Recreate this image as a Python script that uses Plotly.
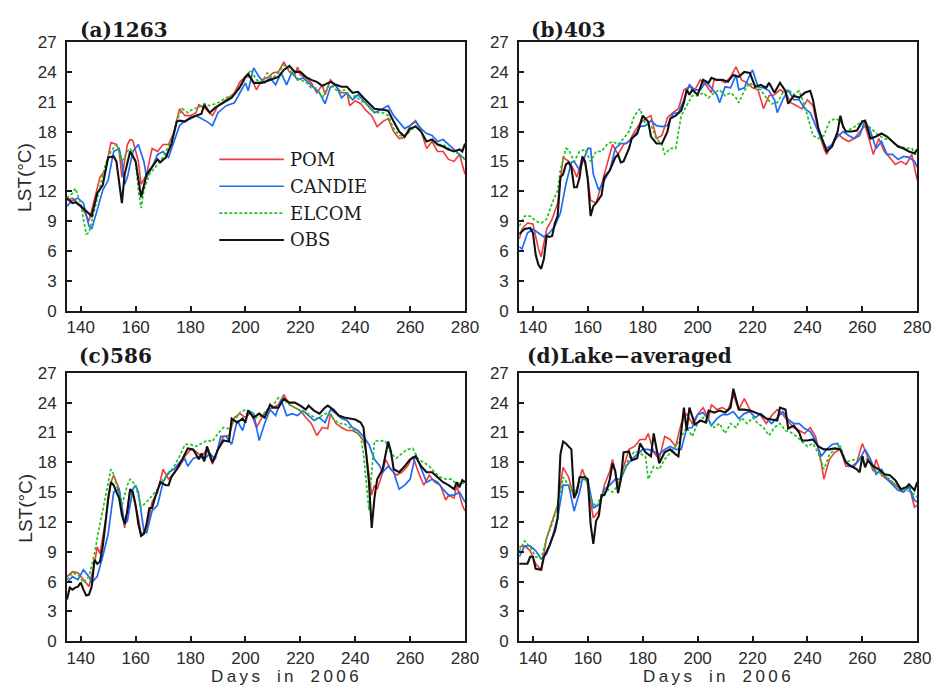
import plotly.graph_objects as go

# ---------------------------------------------------------------------------
# Lake surface temperature (LST, °C) vs day of year 2006
# Each series: list of (day, LST) pairs
# ---------------------------------------------------------------------------
X_RANGE = [135, 280]
Y_RANGE = [0, 27]
X_TICKS = [140, 160, 180, 200, 220, 240, 260, 280]
Y_TICKS = [0, 3, 6, 9, 12, 15, 18, 21, 24, 27]
SERIES_NAMES = ["POM", "CANDIE", "ELCOM", "OBS"]
PANEL_TITLES = ["(a)1263", "(b)403", "(c)586", "(d)Lake\u2212averaged"]

# ---- (a) station 1263 ----
A_POM = [(135, 11.1), (137, 11.3), (139, 10.8), (141, 10.1), (143, 9.0), (145, 11.1), (147, 13.4), (149, 14.1),
         (151, 16.9), (153, 16.7), (154, 16.0), (155, 13.4), (157, 16.7), (158, 17.2), (159, 17.1), (161, 15.0),
         (162, 12.7), (164, 13.7), (166, 16.3), (168, 16.0), (170, 16.7), (172, 16.7), (174, 18.0), (176, 20.3),
         (178, 19.6), (180, 19.6), (182, 19.9), (183, 20.7), (185, 20.4), (188, 19.6), (190, 20.6), (193, 21.2),
         (196, 21.9), (198, 23.0), (200, 23.5), (202, 23.5), (204, 22.2), (206, 23.2), (208, 23.4), (210, 23.9),
         (212, 24.0), (214, 25.0), (216, 24.0), (218, 23.7), (219, 24.5), (220, 23.7), (222, 23.4), (224, 22.9),
         (226, 21.9), (228, 22.7), (229, 21.7), (231, 23.2), (233, 22.5), (235, 21.9), (237, 21.9), (238, 20.6),
         (240, 21.1), (242, 20.8), (244, 20.1), (246, 19.6), (248, 18.5), (250, 19.0), (252, 19.3), (254, 18.0),
         (256, 17.3), (258, 17.4), (260, 18.6), (262, 19.1), (264, 18.0), (266, 16.3), (268, 17.0), (270, 16.0),
         (272, 16.0), (274, 15.2), (276, 15.0), (278, 15.7), (280, 13.7)]
A_CANDIE = [(135, 10.5), (137, 11.1), (139, 11.3), (141, 10.8), (143, 8.5), (144, 8.2), (146, 10.1), (148, 12.1),
            (150, 13.1), (152, 16.0), (154, 16.3), (155, 15.0), (156, 12.7), (157, 13.4), (159, 16.0), (161, 16.7),
            (163, 15.0), (164, 13.4), (166, 14.4), (168, 15.7), (170, 16.0), (172, 15.4), (174, 17.0), (176, 18.6),
            (178, 19.1), (180, 19.3), (182, 19.6), (184, 19.3), (186, 19.0), (188, 18.6), (190, 19.9), (193, 20.6),
            (196, 20.9), (198, 21.9), (200, 22.9), (201, 22.1), (203, 24.4), (205, 23.5), (207, 22.9), (209, 23.4),
            (211, 22.7), (213, 23.9), (215, 22.7), (217, 24.0), (219, 23.2), (221, 23.4), (223, 22.9), (225, 22.5),
            (227, 21.9), (229, 20.8), (231, 22.5), (233, 22.7), (235, 21.4), (237, 21.9), (239, 21.2), (241, 21.7),
            (243, 21.1), (245, 20.6), (247, 19.9), (250, 20.3), (252, 20.6), (254, 19.6), (256, 19.0), (258, 18.3),
            (260, 18.6), (262, 19.0), (264, 18.3), (266, 17.8), (268, 17.6), (270, 17.0), (272, 17.2), (274, 16.7),
            (276, 16.2), (278, 15.8), (280, 15.2)]
A_ELCOM = [(135, 11.3), (137, 11.8), (138, 12.3), (140, 10.8), (141, 9.2), (142, 7.7), (143, 7.8), (145, 10.1),
           (147, 12.7), (149, 14.7), (151, 16.0), (153, 16.7), (154, 16.0), (155, 15.0), (157, 16.0), (158, 16.3),
           (160, 15.0), (161, 12.1), (162, 10.3), (163, 12.1), (165, 13.7), (167, 14.4), (169, 15.0), (171, 16.0),
           (173, 17.0), (175, 19.1), (177, 20.3), (179, 19.9), (181, 20.3), (183, 20.4), (185, 20.8), (187, 20.6),
           (190, 20.9), (193, 21.4), (196, 21.7), (198, 22.4), (200, 23.4), (202, 24.2), (204, 23.2), (206, 23.0),
           (208, 23.9), (210, 23.4), (212, 23.9), (214, 24.7), (216, 24.2), (218, 23.5), (220, 23.2), (222, 23.0),
           (224, 22.4), (226, 22.4), (228, 21.4), (230, 22.5), (232, 22.5), (234, 21.9), (236, 22.2), (238, 21.4),
           (240, 21.6), (242, 21.1), (244, 20.8), (246, 20.1), (248, 19.9), (250, 19.9), (252, 19.6), (254, 18.3),
           (256, 17.6), (258, 17.5), (260, 18.1), (262, 18.6), (264, 18.0), (266, 17.0), (268, 17.2), (270, 16.7),
           (272, 16.7), (274, 16.3), (276, 16.0), (278, 15.7), (280, 15.2)]
A_OBS = [(135, 11.3), (137, 10.8), (138, 10.9), (140, 10.5), (142, 10.0), (144, 9.5), (146, 11.8), (148, 12.6),
         (150, 15.4), (152, 15.5), (153, 15.0), (155, 10.8), (156, 13.7), (158, 16.0), (160, 15.0), (162, 11.4),
         (164, 13.7), (166, 14.4), (168, 15.2), (169, 14.9), (171, 15.4), (173, 16.7), (175, 19.0), (176, 19.1),
         (178, 19.0), (180, 19.4), (182, 19.6), (184, 19.8), (185, 20.7), (187, 19.9), (189, 20.4), (192, 20.9),
         (195, 21.4), (198, 22.5), (200, 23.5), (201, 23.8), (203, 22.9), (206, 22.9), (209, 23.2), (212, 23.5),
         (214, 24.2), (216, 24.6), (218, 24.0), (220, 24.0), (222, 23.5), (224, 23.2), (226, 23.0), (228, 22.6),
         (231, 23.0), (233, 22.7), (235, 22.5), (237, 22.5), (239, 21.9), (241, 22.0), (243, 21.4), (245, 20.9),
         (247, 20.3), (250, 20.2), (252, 20.1), (254, 19.0), (256, 18.0), (258, 17.5), (260, 18.3), (262, 18.5),
         (264, 18.0), (266, 17.0), (268, 17.2), (270, 16.7), (272, 16.5), (274, 16.2), (276, 16.0), (278, 16.2),
         (279, 16.0), (280, 16.8)]

# ---- (b) station 403 ----
B_POM = [(135, 7.2), (136, 8.2), (138, 8.8), (140, 8.7), (142, 6.2), (143, 5.4), (145, 8.2), (147, 9.2), (149, 10.8),
         (151, 15.4), (153, 15.0), (155, 14.1), (156, 13.4), (158, 15.4), (159, 14.9), (160, 13.4), (161, 11.1),
         (163, 10.8), (165, 12.7), (167, 14.7), (169, 16.7), (171, 15.7), (173, 16.7), (175, 17.0), (177, 18.0),
         (179, 18.8), (181, 19.3), (183, 19.6), (185, 17.3), (187, 17.6), (189, 19.4), (191, 19.9), (193, 20.3),
         (195, 22.2), (197, 22.5), (199, 22.2), (201, 23.2), (203, 22.7), (205, 21.9), (206, 23.2), (208, 23.2),
         (210, 22.9), (212, 23.5), (214, 24.5), (216, 23.2), (218, 22.9), (220, 22.4), (222, 22.2), (224, 20.3),
         (226, 21.6), (228, 21.7), (230, 22.2), (232, 21.9), (234, 20.9), (236, 20.6), (238, 20.3), (240, 21.2),
         (242, 20.6), (244, 18.0), (246, 16.3), (247, 15.7), (249, 16.7), (251, 17.8), (253, 17.3), (255, 17.0),
         (257, 17.3), (259, 18.0), (261, 18.6), (263, 16.7), (264, 15.7), (266, 17.3), (268, 16.0), (270, 15.4),
         (272, 14.7), (274, 15.0), (276, 14.7), (278, 15.7), (280, 13.1)]
B_CANDIE = [(135, 6.4), (136, 6.2), (138, 7.8), (140, 8.2), (142, 7.8), (144, 7.4), (146, 7.8), (148, 8.5),
            (150, 9.8), (152, 12.7), (154, 14.9), (155, 15.0), (157, 14.1), (159, 15.7), (160, 16.3), (161, 16.3),
            (162, 13.7), (164, 12.1), (166, 13.1), (168, 14.1), (170, 16.3), (172, 16.8), (174, 16.8), (176, 17.3),
            (178, 18.0), (179, 18.5), (181, 18.6), (183, 19.1), (185, 18.6), (187, 18.5), (189, 18.6), (191, 19.8),
            (193, 19.9), (195, 21.2), (197, 22.7), (199, 22.2), (201, 22.2), (203, 23.0), (205, 22.4), (207, 21.7),
            (208, 20.9), (210, 22.5), (212, 22.4), (214, 23.7), (215, 22.2), (217, 22.4), (219, 23.7), (220, 24.2),
            (222, 22.5), (224, 22.4), (226, 22.1), (228, 21.2), (229, 19.9), (231, 21.2), (233, 22.2), (235, 21.2),
            (237, 21.2), (239, 20.3), (241, 19.9), (243, 18.6), (245, 17.3), (247, 16.3), (249, 16.7), (251, 17.5),
            (253, 18.0), (255, 17.6), (257, 17.3), (259, 17.6), (261, 19.1), (263, 18.0), (265, 16.3), (267, 17.0),
            (269, 15.7), (271, 15.7), (273, 15.2), (275, 15.5), (277, 15.4), (279, 15.0), (280, 14.4)]
B_ELCOM = [(135, 8.5), (137, 9.5), (139, 9.5), (141, 9.0), (143, 8.8), (145, 9.2), (147, 10.8), (149, 12.1),
           (150, 14.1), (152, 16.3), (153, 16.2), (155, 15.0), (157, 16.0), (159, 16.2), (161, 15.0), (163, 16.0),
           (165, 16.0), (167, 16.7), (169, 17.0), (171, 16.7), (173, 17.3), (175, 18.0), (177, 19.6), (179, 20.3),
           (181, 18.8), (183, 18.6), (185, 17.3), (187, 16.7), (188, 15.7), (190, 16.3), (192, 16.3), (194, 19.6),
           (196, 20.6), (198, 21.6), (200, 21.6), (202, 21.9), (204, 21.4), (206, 21.9), (208, 22.2), (210, 21.6),
           (212, 21.9), (214, 21.4), (215, 20.9), (217, 22.1), (219, 22.9), (221, 22.4), (223, 22.2), (225, 21.4),
           (227, 20.8), (229, 20.9), (231, 21.9), (233, 22.2), (235, 21.7), (237, 22.1), (239, 20.6), (240, 19.6),
           (242, 17.6), (244, 17.3), (246, 17.6), (248, 19.0), (250, 19.3), (252, 19.1), (254, 18.0), (256, 18.3),
           (258, 18.6), (260, 19.1), (262, 18.6), (264, 18.0), (266, 17.6), (268, 17.3), (270, 17.2), (272, 16.7),
           (274, 16.5), (276, 16.3), (278, 16.3), (280, 15.5)]
B_OBS = [(135, 7.7), (137, 8.2), (139, 8.3), (140, 7.8), (141, 5.6), (142, 4.6), (143, 4.2), (144, 5.2), (145, 7.5),
         (146, 7.4), (147, 7.5), (148, 8.8), (149, 9.5), (150, 13.4), (151, 13.7), (152, 14.7), (153, 14.9),
         (154, 14.4), (155, 12.4), (156, 12.4), (157, 13.4), (158, 15.5), (159, 15.0), (160, 13.1), (161, 9.5),
         (162, 10.5), (163, 10.8), (165, 11.6), (166, 13.4), (168, 14.1), (170, 15.4), (171, 15.7), (172, 14.9),
         (173, 15.0), (175, 16.3), (176, 17.3), (178, 17.8), (180, 19.6), (182, 19.0), (183, 17.5), (185, 16.8),
         (187, 16.8), (189, 18.0), (190, 19.3), (192, 19.6), (194, 20.1), (195, 20.9), (196, 22.2), (197, 21.7),
         (198, 22.2), (200, 21.7), (202, 23.2), (204, 22.9), (205, 23.4), (207, 23.2), (209, 23.2), (211, 23.0),
         (213, 23.7), (215, 23.5), (217, 24.0), (219, 23.9), (221, 22.5), (223, 22.7), (225, 22.4), (226, 22.9),
         (228, 21.9), (230, 22.9), (232, 22.1), (233, 20.8), (235, 21.6), (237, 21.4), (239, 21.9), (241, 22.1),
         (242, 21.2), (244, 18.3), (246, 16.7), (247, 16.0), (249, 16.5), (251, 18.0), (252, 19.6), (253, 18.5),
         (254, 18.0), (256, 18.0), (258, 18.1), (260, 19.0), (261, 19.1), (263, 17.3), (265, 17.5), (267, 17.8),
         (269, 17.5), (271, 17.0), (273, 16.5), (275, 16.3), (277, 16.0), (279, 15.8), (280, 16.2)]

# ---- (c) station 586 ----
C_POM = [(135, 6.5), (137, 7.0), (139, 6.9), (141, 6.2), (143, 5.5), (145, 7.8), (146, 9.5), (147, 8.8), (149, 12.1),
         (151, 16.0), (152, 16.7), (154, 15.3), (156, 11.4), (158, 15.3), (159, 14.7), (161, 12.4), (162, 10.8),
         (164, 11.1), (166, 14.0), (168, 15.0), (170, 17.3), (172, 16.3), (174, 17.0), (176, 17.6), (178, 18.6),
         (180, 19.3), (182, 19.1), (184, 18.6), (186, 19.3), (188, 17.8), (190, 19.3), (192, 20.6), (194, 20.7),
         (196, 22.5), (198, 22.9), (200, 22.5), (202, 23.0), (204, 21.5), (206, 22.5), (208, 23.3), (210, 23.5),
         (212, 23.8), (214, 24.8), (216, 23.8), (218, 23.5), (220, 23.2), (222, 22.5), (224, 21.9), (226, 20.7),
         (228, 21.5), (230, 21.4), (231, 22.9), (233, 21.9), (235, 21.5), (237, 21.2), (239, 21.2), (241, 20.9),
         (243, 20.2), (244, 18.9), (245, 17.0), (246, 14.7), (247, 15.7), (248, 15.3), (250, 17.0), (251, 18.3),
         (253, 17.3), (255, 16.7), (257, 17.0), (259, 17.6), (261, 18.6), (263, 17.0), (265, 15.7), (267, 16.7),
         (269, 16.0), (271, 15.7), (273, 14.2), (274, 14.7), (276, 14.4), (277, 15.7), (279, 13.7), (280, 13.1)]
C_CANDIE = [(135, 5.9), (137, 6.5), (139, 6.2), (141, 7.2), (143, 6.5), (144, 5.9), (146, 6.5), (148, 8.5),
            (150, 10.8), (152, 15.0), (154, 15.3), (156, 11.8), (157, 12.1), (159, 15.3), (160, 15.7), (161, 15.0),
            (163, 11.1), (164, 10.9), (166, 13.1), (168, 13.7), (170, 16.0), (172, 17.0), (174, 17.3), (176, 18.0),
            (178, 18.3), (179, 17.6), (181, 18.4), (183, 18.6), (185, 18.3), (187, 18.9), (189, 18.3), (191, 20.6),
            (193, 20.6), (195, 19.8), (197, 22.2), (199, 21.2), (201, 23.2), (203, 22.9), (205, 20.2), (207, 21.9),
            (209, 23.3), (211, 22.7), (213, 24.3), (215, 22.7), (217, 22.9), (219, 22.7), (221, 23.2), (223, 22.7),
            (225, 22.2), (227, 22.5), (229, 22.0), (231, 23.3), (233, 22.9), (235, 22.4), (237, 22.2), (239, 21.5),
            (241, 21.2), (243, 20.6), (245, 19.8), (247, 18.3), (249, 17.6), (250, 17.0), (252, 17.6), (254, 17.0),
            (256, 15.3), (258, 15.7), (260, 16.3), (262, 18.8), (264, 17.3), (266, 16.0), (268, 16.3), (270, 16.0),
            (272, 15.3), (274, 14.7), (276, 14.7), (278, 15.0), (280, 14.0)]
C_ELCOM = [(135, 6.2), (137, 6.9), (139, 6.7), (141, 5.9), (143, 6.5), (145, 8.8), (147, 11.8), (149, 14.4),
           (151, 17.3), (152, 16.8), (154, 14.7), (155, 13.7), (157, 15.7), (158, 16.3), (160, 15.7), (162, 13.5),
           (164, 14.0), (166, 14.7), (168, 15.3), (170, 16.3), (172, 16.8), (174, 17.6), (176, 18.6), (178, 19.8),
           (180, 19.8), (182, 19.6), (184, 19.9), (186, 20.2), (188, 20.1), (190, 20.9), (192, 21.5), (194, 21.4),
           (196, 22.2), (198, 23.0), (200, 23.3), (202, 23.0), (204, 22.5), (206, 22.7), (208, 23.3), (210, 23.7),
           (212, 24.5), (214, 24.3), (216, 23.8), (218, 23.5), (220, 23.2), (222, 23.0), (224, 22.7), (226, 22.4),
           (228, 22.7), (230, 23.0), (232, 22.4), (234, 21.9), (236, 21.9), (238, 21.5), (240, 21.2), (242, 20.6),
           (243, 18.9), (244, 16.3), (245, 13.2), (246, 17.0), (247, 20.1), (249, 20.2), (251, 20.1), (253, 18.9),
           (255, 18.4), (257, 18.9), (259, 19.3), (261, 19.4), (263, 18.3), (265, 18.0), (267, 17.6), (269, 17.0),
           (271, 16.5), (273, 16.3), (275, 16.3), (277, 15.8), (279, 16.0), (280, 15.7)]
C_OBS = [(135, 4.2), (136, 5.4), (137, 5.2), (138, 5.4), (139, 5.5), (140, 5.9), (141, 5.2), (142, 4.6), (143, 4.7),
         (144, 5.5), (145, 8.2), (146, 7.8), (147, 8.0), (148, 9.5), (149, 11.8), (150, 14.4), (151, 16.0),
         (152, 15.7), (153, 15.0), (154, 14.4), (155, 12.7), (156, 11.8), (157, 13.1), (158, 15.3), (159, 15.0),
         (160, 13.7), (161, 11.8), (162, 10.6), (163, 10.8), (164, 11.8), (165, 13.4), (166, 13.4), (167, 14.4),
         (169, 16.0), (171, 15.7), (172, 15.7), (173, 16.5), (175, 17.3), (177, 18.3), (179, 19.4), (181, 19.3),
         (183, 18.3), (184, 18.9), (185, 18.1), (186, 19.6), (188, 18.0), (190, 19.3), (192, 20.2), (194, 20.1),
         (195, 22.4), (197, 22.0), (199, 22.4), (200, 22.0), (201, 23.2), (203, 22.5), (205, 22.9), (207, 22.5),
         (209, 23.8), (210, 23.5), (212, 23.5), (214, 24.4), (216, 24.0), (218, 24.0), (220, 23.7), (222, 23.3),
         (223, 23.7), (225, 23.2), (227, 22.9), (229, 23.5), (230, 23.7), (232, 23.3), (234, 22.7), (236, 22.5),
         (238, 22.4), (240, 22.3), (242, 22.0), (243, 21.5), (244, 18.9), (245, 16.0), (246, 11.4), (247, 14.4),
         (248, 16.3), (250, 17.3), (252, 20.1), (253, 19.1), (254, 17.3), (256, 17.0), (258, 17.6), (260, 18.3),
         (262, 18.6), (264, 17.6), (266, 17.0), (268, 17.0), (270, 16.5), (272, 16.0), (274, 15.7), (276, 15.3),
         (277, 16.0), (278, 15.5), (279, 16.2), (280, 16.0)]

# ---- (d) lake-averaged ----
D_POM = [(135, 9.5), (137, 9.6), (139, 9.1), (141, 7.8), (143, 7.2), (145, 10.4), (147, 12.1), (149, 13.7),
         (151, 17.5), (153, 16.5), (155, 14.4), (157, 16.3), (158, 17.3), (160, 15.7), (162, 12.4), (164, 13.1),
         (166, 15.7), (168, 17.1), (169, 18.3), (171, 15.7), (173, 17.6), (175, 19.3), (177, 19.6), (179, 20.3),
         (181, 20.3), (182, 20.9), (184, 19.0), (186, 18.3), (188, 20.6), (190, 20.3), (192, 19.6), (194, 21.9),
         (196, 22.9), (198, 21.9), (200, 22.8), (202, 23.5), (204, 22.4), (205, 23.8), (207, 23.3), (209, 23.5),
         (211, 23.2), (213, 24.8), (215, 23.3), (217, 24.4), (219, 23.3), (221, 23.0), (223, 22.7), (225, 21.9),
         (227, 22.7), (229, 23.3), (231, 22.8), (233, 22.1), (235, 21.5), (237, 21.2), (239, 20.9), (241, 21.5),
         (243, 20.6), (245, 18.0), (246, 16.3), (248, 18.3), (250, 19.0), (252, 19.3), (254, 17.6), (256, 17.6),
         (258, 18.0), (260, 19.9), (262, 18.4), (264, 17.1), (265, 18.3), (267, 16.7), (269, 16.3), (271, 16.0),
         (273, 15.5), (275, 15.0), (277, 15.7), (279, 13.5), (280, 13.7)]
D_CANDIE = [(135, 8.5), (137, 9.6), (139, 9.6), (141, 9.1), (143, 8.3), (145, 8.8), (147, 10.4), (149, 12.4),
            (151, 15.7), (153, 15.7), (155, 13.1), (157, 15.0), (158, 16.3), (160, 16.2), (162, 13.4), (164, 13.7),
            (166, 15.3), (168, 15.7), (170, 16.3), (172, 16.3), (174, 17.6), (176, 18.3), (178, 18.8), (180, 19.3),
            (182, 19.3), (184, 19.1), (186, 18.8), (188, 19.3), (190, 19.6), (192, 19.3), (194, 19.3), (196, 21.4),
            (198, 21.5), (200, 22.8), (202, 23.0), (204, 22.3), (205, 21.7), (207, 22.4), (209, 22.8), (211, 22.8),
            (213, 23.1), (215, 22.4), (217, 22.9), (219, 23.1), (221, 22.5), (223, 22.9), (225, 22.4), (227, 21.9),
            (229, 22.5), (231, 23.1), (233, 22.3), (235, 21.9), (237, 21.9), (239, 21.4), (241, 21.1), (243, 20.2),
            (245, 18.6), (247, 19.3), (249, 19.8), (251, 19.9), (253, 18.6), (255, 17.6), (257, 17.6), (259, 18.3),
            (261, 19.3), (263, 18.3), (265, 16.8), (267, 17.3), (269, 16.3), (271, 15.8), (273, 15.2), (275, 15.0),
            (277, 15.5), (279, 14.2), (280, 14.0)]
D_ELCOM = [(135, 9.1), (137, 10.1), (139, 9.5), (141, 8.5), (143, 8.3), (145, 10.4), (147, 11.8), (149, 13.7),
           (151, 16.5), (153, 15.7), (155, 14.7), (157, 16.0), (159, 16.7), (161, 14.4), (163, 13.5), (165, 14.7),
           (167, 15.3), (169, 15.0), (171, 15.7), (173, 17.0), (175, 18.4), (177, 19.1), (179, 18.9), (181, 18.6),
           (182, 16.3), (184, 17.6), (186, 17.3), (188, 18.3), (190, 19.0), (192, 19.6), (194, 20.6), (196, 21.5),
           (198, 20.6), (200, 21.9), (202, 22.5), (204, 22.0), (206, 21.5), (208, 21.9), (210, 20.9), (212, 21.9),
           (214, 21.5), (216, 22.5), (218, 21.9), (220, 22.5), (222, 21.9), (224, 21.5), (226, 20.7), (228, 21.5),
           (230, 21.9), (232, 21.2), (234, 21.0), (236, 20.6), (238, 20.1), (240, 19.6), (242, 19.9), (244, 18.9),
           (246, 17.3), (248, 18.8), (250, 19.3), (252, 19.6), (254, 18.0), (256, 18.2), (258, 18.3), (260, 18.6),
           (262, 18.3), (264, 17.3), (266, 17.0), (268, 16.7), (270, 16.3), (272, 15.7), (274, 15.3), (276, 15.2),
           (278, 15.0), (280, 14.5)]
D_OBS = [(135, 7.8), (138, 7.8), (139, 8.5), (140, 8.5), (141, 7.3), (143, 7.2), (144, 8.5), (145, 9.1), (146, 9.6),
         (148, 11.1), (149, 12.4), (150, 18.8), (151, 20.1), (152, 19.9), (153, 19.6), (154, 19.3), (155, 14.4),
         (156, 15.0), (157, 16.5), (158, 16.5), (159, 16.5), (160, 16.3), (161, 11.8), (162, 9.8), (163, 12.1),
         (164, 12.6), (165, 14.7), (166, 14.7), (167, 15.3), (168, 16.3), (169, 17.9), (170, 17.1), (171, 14.9),
         (172, 16.2), (173, 19.0), (175, 19.1), (176, 18.2), (178, 18.4), (179, 19.9), (181, 19.0), (183, 18.6),
         (184, 20.9), (186, 17.9), (188, 19.0), (190, 19.3), (192, 18.8), (193, 18.6), (195, 23.5), (196, 21.2),
         (197, 23.5), (199, 21.8), (201, 22.2), (203, 22.0), (204, 23.2), (206, 23.0), (208, 23.2), (210, 23.0),
         (212, 23.5), (213, 25.4), (215, 23.3), (217, 23.3), (219, 23.2), (221, 23.0), (223, 22.8), (225, 22.4),
         (227, 22.3), (229, 22.2), (230, 23.5), (232, 23.3), (233, 21.4), (235, 21.7), (237, 21.0), (238, 20.2),
         (240, 20.2), (242, 20.3), (244, 19.6), (246, 19.3), (248, 19.3), (250, 19.4), (252, 19.3), (254, 18.0),
         (256, 17.6), (258, 17.3), (259, 17.0), (260, 18.6), (261, 17.5), (262, 18.2), (264, 17.6), (266, 17.3),
         (268, 16.8), (270, 16.7), (272, 16.2), (274, 15.3), (276, 15.5), (277, 15.8), (279, 15.2), (280, 16.0)]

PANELS = [
    [A_POM, A_CANDIE, A_ELCOM, A_OBS],
    [B_POM, B_CANDIE, B_ELCOM, B_OBS],
    [C_POM, C_CANDIE, C_ELCOM, C_OBS],
    [D_POM, D_CANDIE, D_ELCOM, D_OBS],
]

# Legend keys inside panel (a): line start/end day, label day, row temperatures
LEGEND_X = [190.5, 214.0]
LEGEND_TEXT_X = 215.6
LEGEND_Y = [15.2, 12.5, 9.8, 7.1]

# ---------------------------------------------------------------------------
# Styling
# ---------------------------------------------------------------------------
W, H = 947, 698
COLORS = ["#f03a3a", "#1f6bf5", "#22c322", "#111111"]
WIDTHS = [1.6, 1.7, 1.7, 2.1]
DASHES = ["solid", "solid", "3px,2px", "solid"]
SANS = "Liberation Sans, Arial, sans-serif"
SERIF = "DejaVu Serif, serif"

# plot-area boxes in pixels: (left, right, top, bottom)
BOXES = [(68, 472, 34, 310), (527, 931, 34, 310), (68, 472, 374, 650), (527, 931, 374, 650)]

fig = go.Figure()

for i, series in enumerate(PANELS):
    ax = "" if i == 0 else str(i + 1)
    for name, pts, col, w, dash in zip(SERIES_NAMES, series, COLORS, WIDTHS, DASHES):
        fig.add_trace(go.Scatter(
            x=[p[0] for p in pts], y=[p[1] for p in pts],
            mode="lines", name=name, showlegend=False,
            line=dict(color=col, width=w, dash=dash),
            xaxis="x" + ax, yaxis="y" + ax,
        ))

axis_common = dict(
    showgrid=False, zeroline=False, showline=True, linecolor="#1a1a1a", linewidth=2,
    mirror=True, ticks="inside", ticklen=5, tickwidth=1.5, tickcolor="#1a1a1a",
    tickfont=dict(family=SANS, size=17, color="#2a2a2a"),
)

layout = dict(
    width=W, height=H, margin=dict(l=0, r=0, t=0, b=0),
    paper_bgcolor="white", plot_bgcolor="white", showlegend=False,
)
for i, (l, r, t, b) in enumerate(BOXES):
    ax = "" if i == 0 else str(i + 1)
    layout["xaxis" + ax] = dict(
        axis_common, domain=[l / W, r / W], anchor="y" + ax,
        range=X_RANGE, tickvals=X_TICKS, ticklabelstandoff=0,
    )
    layout["yaxis" + ax] = dict(
        axis_common, domain=[1 - b / H, 1 - t / H], anchor="x" + ax,
        range=Y_RANGE, tickvals=Y_TICKS, ticklabelstandoff=5,
    )
fig.update_layout(**layout)

annotations = []
# panel titles
title_pos = [(79, 22), (537, 22), (78, 357), (533, 357)]
for txt, (px, py) in zip(PANEL_TITLES, title_pos):
    annotations.append(dict(
        text="<b>" + txt + "</b>", x=px / W, y=1 - py / H, xref="paper", yref="paper",
        xanchor="left", yanchor="middle", showarrow=False,
        font=dict(family=SERIF, size=20, color="#1a1a1a"),
    ))
# y-axis titles (left column)
for py in (173, 513):
    annotations.append(dict(
        text="LST(°C)", x=25 / W, y=1 - py / H, xref="paper", yref="paper",
        xanchor="center", yanchor="middle", textangle=-90, showarrow=False,
        font=dict(family=SANS, size=19, color="#2a2a2a"),
    ))
# x-axis titles (bottom row), letter-spaced
spaced = "\u2009".join("Days") + "\u2002\u2002" + "\u2009".join("in") + "\u2002\u2002" + "\u2009".join("2006")
for px in (289, 728):
    annotations.append(dict(
        text=spaced, x=px / W, y=0, xref="paper", yref="paper",
        xanchor="center", yanchor="bottom", showarrow=False,
        font=dict(family=SANS, size=17, color="#2a2a2a"),
    ))
# legend labels in panel (a)
for name, ly in zip(SERIES_NAMES, LEGEND_Y):
    annotations.append(dict(
        text=name, x=LEGEND_TEXT_X, y=ly, xref="x", yref="y",
        xanchor="left", yanchor="middle", showarrow=False,
        font=dict(family=SERIF, size=18, color="#1a1a1a"),
    ))

shapes = []
for col, w, dash, ly in zip(COLORS, WIDTHS, DASHES, LEGEND_Y):
    shapes.append(dict(
        type="line", xref="x", yref="y", x0=LEGEND_X[0], x1=LEGEND_X[1], y0=ly, y1=ly,
        line=dict(color=col, width=w, dash=dash),
    ))

fig.update_layout(annotations=annotations, shapes=shapes)

fig.write_html("out.html")
